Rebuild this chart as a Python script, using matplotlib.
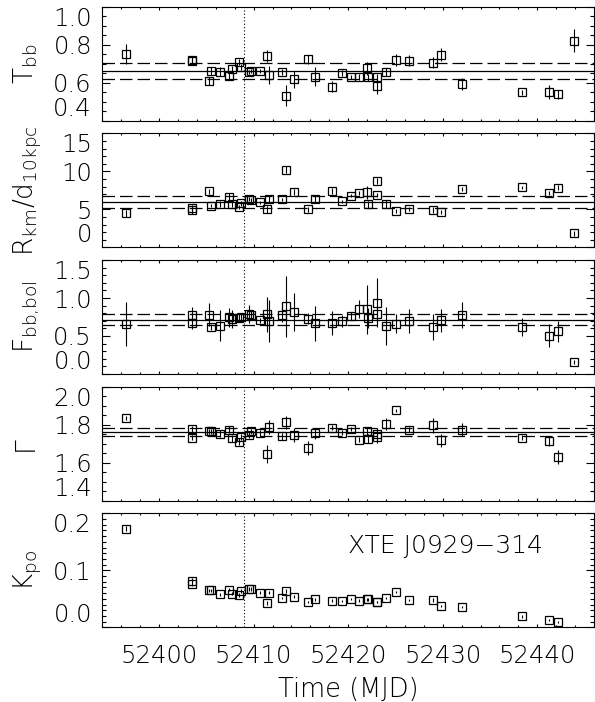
import numpy as np
import matplotlib
matplotlib.use("Agg")
import matplotlib.pyplot as plt
from matplotlib.ticker import FixedLocator, MultipleLocator

# observation times (MJD)
time = [52396.5, 52403.5, 52403.5, 52405.3, 52405.5, 52406.4, 52407.4, 52407.7,
        52408.5, 52408.7, 52409.5, 52409.7, 52410.7, 52411.4, 52411.6, 52413.0,
        52413.4, 52414.3, 52415.8, 52416.5, 52418.3, 52419.4, 52420.3, 52421.2,
        52422.0, 52422.1, 52423.0, 52423.1, 52424.0, 52425.1, 52426.4, 52429.0,
        52429.8, 52432.0, 52438.4, 52441.2, 52442.2, 52443.9]

t_bb = [0.751, 0.722, 0.716, 0.609, 0.663, 0.658, 0.635, 0.670, 0.709, 0.684,
        0.658, 0.661, 0.661, 0.740, 0.639, 0.656, 0.532, 0.618, 0.723, 0.632,
        0.579, 0.651, 0.628, 0.630, 0.675, 0.628, 0.628, 0.582, 0.656, 0.719,
        0.716, 0.705, 0.747, 0.593, 0.549, 0.551, 0.539, 0.821]
t_bb_err = [0.053, 0.015, 0.015, 0.02, 0.02, 0.025, 0.02, 0.02, 0.015, 0.015,
            0.01, 0.01, 0.01, 0.03, 0.048, 0.015, 0.057, 0.044, 0.025, 0.048,
            0.03, 0.015, 0.01, 0.015, 0.035, 0.02, 0.02, 0.04, 0.02, 0.03,
            0.03, 0.03, 0.035, 0.03, 0.015, 0.037, 0.025, 0.061]

r_km = [4.46, 5.16, 4.85, 7.35, 5.47, 5.69, 6.65, 5.69, 5.29, 5.80,
        6.34, 6.17, 5.91, 4.99, 6.39, 6.30, 10.23, 7.26, 4.99, 6.30,
        7.44, 6.08, 6.78, 7.17, 7.22, 5.64, 8.75, 6.87, 5.69, 4.81,
        5.03, 4.90, 4.64, 7.70, 7.92, 7.17, 7.87, 1.84]
r_km_err = [0.5, 0.4, 0.4, 0.3, 0.2, 0.4, 0.5, 0.4, 0.3, 0.3,
            0.3, 0.3, 0.2, 0.5, 0.4, 0.2, 0.5, 0.4, 0.3, 0.4,
            0.4, 0.2, 0.2, 0.3, 0.9, 0.5, 0.4, 0.3, 0.5, 0.3,
            0.3, 0.4, 0.3, 0.3, 0.2, 0.3, 0.3, 0.3]

f_bol = [0.654, 0.780, 0.671, 0.780, 0.615, 0.636, 0.745, 0.728, 0.741, 0.754,
         0.793, 0.780, 0.706, 0.785, 0.698, 0.772, 0.889, 0.811, 0.728, 0.667,
         0.667, 0.693, 0.763, 0.855, 0.850, 0.732, 0.937, 0.785, 0.636, 0.663,
         0.698, 0.623, 0.706, 0.776, 0.615, 0.506, 0.562, 0.157]
f_bol_err = [0.29, 0.10, 0.08, 0.15, 0.04, 0.20, 0.13, 0.12, 0.06, 0.05,
             0.12, 0.05, 0.03, 0.23, 0.28, 0.09, 0.40, 0.25, 0.07, 0.23,
             0.16, 0.08, 0.05, 0.12, 0.32, 0.13, 0.32, 0.12, 0.25, 0.13,
             0.16, 0.17, 0.15, 0.17, 0.12, 0.15, 0.14, 0.03]

gamma = [1.836, 1.776, 1.732, 1.764, 1.764, 1.753, 1.774, 1.728, 1.711, 1.735,
         1.746, 1.764, 1.755, 1.644, 1.790, 1.739, 1.813, 1.746, 1.679, 1.755,
         1.785, 1.758, 1.776, 1.721, 1.767, 1.726, 1.749, 1.737, 1.804, 1.876,
         1.774, 1.797, 1.718, 1.774, 1.732, 1.714, 1.631, np.nan]
gamma_err = [0.012, 0.015, 0.015, 0.015, 0.015, 0.018, 0.018, 0.018, 0.018, 0.015,
             0.015, 0.015, 0.015, 0.048, 0.037, 0.018, 0.035, 0.035, 0.037, 0.030,
             0.012, 0.012, 0.012, 0.012, 0.020, 0.025, 0.035, 0.035, 0.033, 0.008,
             0.015, 0.040, 0.033, 0.033, 0.012, 0.026, 0.037, np.nan]

k_po = [0.173, 0.082, 0.076, 0.065, 0.065, 0.058, 0.066, 0.059, 0.057, 0.064,
        0.067, 0.067, 0.061, 0.043, 0.061, 0.052, 0.064, 0.054, 0.044, 0.049,
        0.047, 0.046, 0.050, 0.047, 0.049, 0.049, 0.044, 0.044, 0.051, 0.062,
        0.048, 0.048, 0.038, 0.035, 0.019, 0.013, 0.009, np.nan]
k_po_err = [0.004, 0.004, 0.004, 0.003, 0.003, 0.003, 0.003, 0.003, 0.003, 0.003,
            0.003, 0.003, 0.003, 0.003, 0.003, 0.002, 0.003, 0.002, 0.002, 0.002,
            0.002, 0.002, 0.002, 0.002, 0.003, 0.002, 0.002, 0.002, 0.002, 0.002,
            0.002, 0.003, 0.002, 0.002, 0.002, 0.002, 0.002, np.nan]

# mean and +/- sigma levels (solid / dashed)
t_bb_lines = [0.660, 0.702, 0.621]
r_km_lines = [5.95, 6.74, 5.12]
f_bol_lines = [0.715, 0.793, 0.645]
gamma_lines = [1.763, 1.785, 1.742]

dip_time = 52409.0
source_name = "XTE J0929\u2212314"

panels = [
    (t_bb, t_bb_err, t_bb_lines, r"$\mathrm{T_{bb}}$", (0.4, 1.0), [0.4, 0.6, 0.8, 1.0], 0.05, "%.1f"),
    (r_km, r_km_err, r_km_lines, r"$\mathrm{R_{km}/d_{10kpc}}$", (0, 15), [0, 5, 10, 15], 1, "%d"),
    (f_bol, f_bol_err, f_bol_lines, r"$\mathrm{F_{bb{,}bol}}$", (0.0, 1.5), [0.0, 0.5, 1.0, 1.5], 0.1, "%.1f"),
    (gamma, gamma_err, gamma_lines, "\u0393", (1.4, 2.0), [1.4, 1.6, 1.8, 2.0], 0.05, "%.1f"),
    (k_po, k_po_err, None, r"$\mathrm{K_{po}}$", (0.0, 0.2), [0.0, 0.1, 0.2], 0.01, "%.1f"),
]

plt.rcParams['font.family'] = ['DejaVu Sans']
plt.rcParams['font.weight'] = 'light'
plt.rcParams['mathtext.fontset'] = 'custom'
plt.rcParams['mathtext.rm'] = 'DejaVu Sans:light'

W, H = 595, 702
fig = plt.figure(figsize=(W / 100, H / 100), dpi=100)

left_px, right_px = 102.3, 594.0
panel_h = 114.0
for i, (vals, errs, lines, label, ylim, yticks, minor, fmt) in enumerate(panels):
    top_px = 6.7 + 126.65 * i
    ax = fig.add_axes([left_px / W, 1 - (top_px + panel_h) / H,
                       (right_px - left_px) / W, panel_h / H])

    ax.errorbar(time, vals, yerr=errs, fmt='s', ms=6, mfc='none', mec='black',
                mew=0.9, ecolor='black', elinewidth=0.8, capsize=0)

    if lines is not None:
        ax.axhline(lines[0], color='black', lw=0.9)
        ax.axhline(lines[1], color='black', lw=0.9, ls=(0, (10, 4)))
        ax.axhline(lines[2], color='black', lw=0.9, ls=(0, (10, 4)))

    ax.axvline(dip_time, color='black', lw=0.8, ls=(0, (1, 2)))

    ax.set_xlim(52394, 52446)
    ax.set_ylim(*ylim)
    ax.xaxis.set_major_locator(MultipleLocator(10))
    ax.xaxis.set_minor_locator(MultipleLocator(2))
    ax.yaxis.set_major_locator(FixedLocator(yticks))
    ax.yaxis.set_minor_locator(MultipleLocator(minor))
    ax.set_yticklabels([fmt % v for v in yticks])

    ax.tick_params(axis='both', which='both', direction='in', top=True, right=True,
                   labelsize=17.5, width=0.8)
    ax.tick_params(axis='y', which='major', length=6, pad=7.5)
    ax.tick_params(axis='y', which='minor', length=3)
    ax.tick_params(axis='x', which='major', length=2.4, pad=12)
    ax.tick_params(axis='x', which='minor', length=1.2)
    for sp in ax.spines.values():
        sp.set_linewidth(0.8)

    # keep the end labels inside the panel, as in the original
    ticks = ax.yaxis.get_major_ticks()
    ticks[0].label1.set_verticalalignment('bottom')
    ticks[-1].label1.set_verticalalignment('top')

    if i < len(panels) - 1:
        ax.set_xticklabels([])
    else:
        ax.set_xticks([52400, 52410, 52420, 52430, 52440])
        ax.set_xticklabels(['52400', '52410', '52420', '52430', '52440'])
        ax.text(0.5, 0.65, source_name, transform=ax.transAxes, fontsize=18,
                ha='left', va='baseline')

    fig.text(33 / W, 1 - (top_px + panel_h / 2) / H, label, fontsize=19,
             rotation=90, rotation_mode='anchor', ha='center', va='baseline')

fig.text((left_px + right_px) / 2 / W, 1 - 697 / H, "Time (MJD)", fontsize=18.5,
         ha='center', va='baseline')

fig.savefig("out.png", dpi=100)
